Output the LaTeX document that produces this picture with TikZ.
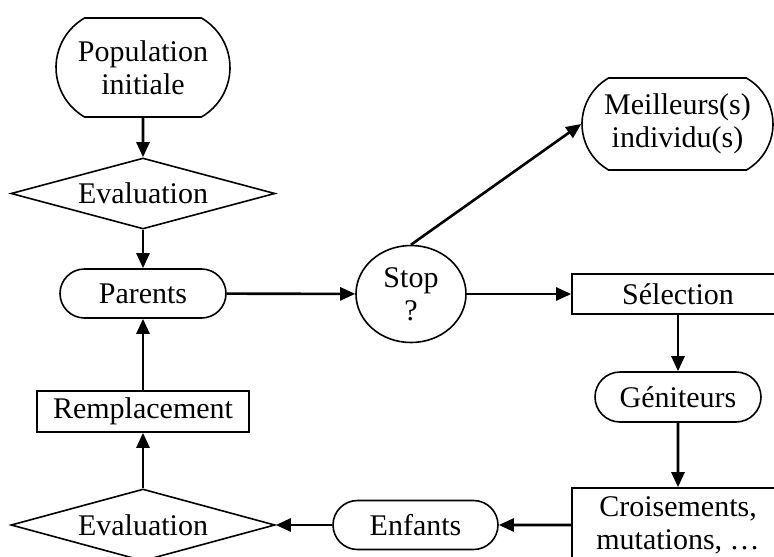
\documentclass[tikz,border=0pt]{standalone}
\usepackage{fontspec}
\setmainfont{Liberation Serif}
\usetikzlibrary{arrows.meta}
\usetikzlibrary{shapes.geometric,shapes.misc}

\begin{document}
\begin{tikzpicture}[>={Triangle[length=15pt,width=13pt]}, x=1pt, y=-1pt,
    font=\fontsize{30}{33}\selectfont,
    box/.style={draw, line width=1.6pt, inner sep=2pt, align=center},
    term/.style={box, rounded rectangle},
    tallterm/.style={term, rounded rectangle arc length=120},
    test/.style={box, diamond, aspect=3.7, inner sep=0pt},
    flow/.style={->, line width=2.6pt}]

    \useasboundingbox (0,0) rectangle (774,557);

    \node[tallterm, minimum width=178pt, minimum height=99pt] (pop) at (143,67.5) {Population\\initiale};
    \node[test, minimum width=264pt, minimum height=71pt] (eval1) at (143,193.5) {Evaluation};
    \node[term, minimum width=170pt, minimum height=49pt] (parents) at (143,293.5) {Parents};
    \node[box, minimum width=212pt, minimum height=41pt] (remp) at (143,411.5) {Remplacement};
    \node[test, minimum width=264pt, minimum height=72pt] (eval2) at (143,525) {Evaluation};

    \node[box, ellipse, inner sep=0pt, minimum width=110pt, minimum height=97pt] (stop) at (411,294) {Stop\\?};
    \node[tallterm, minimum width=195pt, minimum height=92pt] (best) at (677.5,124) {Meilleurs(s)\\individu(s)};

    \node[box, minimum width=212pt, minimum height=40pt] (sel) at (678,294) {Sélection};
    \node[term, minimum width=170pt, minimum height=50pt] (gen) at (678,397) {Géniteurs};
    \node[box, minimum width=212pt, minimum height=74pt] (cross) at (678,525) {Croisements,\\mutations, \dots};
    \node[term, minimum width=169pt, minimum height=49pt] (kids) at (415.5,525) {Enfants};

    \draw[flow] (pop) -- (eval1);
    \draw[flow] (eval1) -- (parents);
    \draw[flow] (parents) -- (stop);
    \draw[flow] (stop.north) -- (best.west);
    \draw[flow] (stop) -- (sel);
    \draw[flow] (sel) -- (gen);
    \draw[flow] (gen) -- (cross);
    \draw[flow] (cross) -- (kids);
    \draw[flow] (kids) -- (eval2.east);
    \draw[flow] (eval2.north) -- (remp);
    \draw[flow] (remp) -- (parents);

\end{tikzpicture}
\end{document}
